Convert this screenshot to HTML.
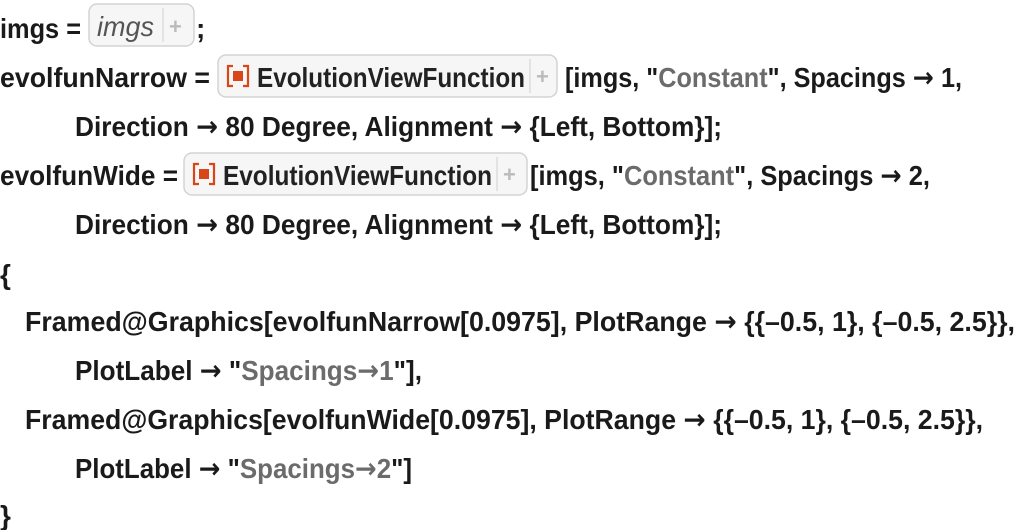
<!DOCTYPE html>
<html><head><meta charset="utf-8"><style>
html,body{margin:0;padding:0;background:#fff;}
svg{display:block;}
text{font-family:"Liberation Sans",sans-serif;font-weight:bold;font-size:28px;fill:#1a1a1a;}
.g{fill:#6b6b6b;}
.a{font-family:"DejaVu Sans",sans-serif;}
.bx{fill:#f6f6f6;stroke:#d3d3d3;stroke-width:1.5;}
</style></head><body>
<svg width="1020" height="530" viewBox="0 0 1020 530">
<!-- line 1 -->
<text x="0" y="38" textLength="81" lengthAdjust="spacingAndGlyphs">imgs =</text>
<rect class="bx" x="89" y="4" width="105" height="42" rx="8"/>
<line x1="163" y1="8" x2="163" y2="42" stroke="#ddd" stroke-width="1.5"/>
<text x="97" y="36" textLength="57" lengthAdjust="spacingAndGlyphs" style="font-style:italic;font-weight:normal;fill:#555">imgs</text>
<text x="169" y="34" style="font-size:22px;fill:#bbb">+</text>
<text x="196" y="38">;</text>
<!-- line 2 -->
<text x="0" y="87" textLength="210" lengthAdjust="spacingAndGlyphs">evolfunNarrow =</text>
<rect class="bx" x="218" y="55" width="339" height="42" rx="8"/>
<line x1="530" y1="59" x2="530" y2="93" stroke="#ddd" stroke-width="1.5"/>
<g fill="none" stroke="#d9461a" stroke-width="2.2"><path d="M233 66 h-5 v20 h5 M243 66 h5 v20 h-5"/></g>
<rect x="233" y="71" width="10" height="10" fill="#d9461a"/>
<text x="257" y="87" textLength="268" lengthAdjust="spacingAndGlyphs" style="fill:#222">EvolutionViewFunction</text>
<text x="536" y="84" style="font-size:22px;fill:#bbb">+</text>
<text x="565" y="87" textLength="397" lengthAdjust="spacingAndGlyphs">[imgs, "<tspan class="g">Constant</tspan>", Spacings <tspan class="a">→</tspan> 1,</text>
<!-- line 3 -->
<text x="75" y="136" textLength="647" lengthAdjust="spacingAndGlyphs">Direction <tspan class="a">→</tspan> 80 Degree, Alignment <tspan class="a">→</tspan> {Left, Bottom}];</text>
<!-- line 4 -->
<text x="0" y="185" textLength="178" lengthAdjust="spacingAndGlyphs">evolfunWide =</text>
<rect class="bx" x="184" y="153" width="343" height="42" rx="8"/>
<line x1="497" y1="157" x2="497" y2="191" stroke="#ddd" stroke-width="1.5"/>
<g fill="none" stroke="#d9461a" stroke-width="2.2"><path d="M199 164 h-5 v20 h5 M209 164 h5 v20 h-5"/></g>
<rect x="199" y="169" width="10" height="10" fill="#d9461a"/>
<text x="223" y="185" textLength="269" lengthAdjust="spacingAndGlyphs" style="fill:#222">EvolutionViewFunction</text>
<text x="503" y="182" style="font-size:22px;fill:#bbb">+</text>
<text x="530" y="185" textLength="400" lengthAdjust="spacingAndGlyphs">[imgs, "<tspan class="g">Constant</tspan>", Spacings <tspan class="a">→</tspan> 2,</text>
<!-- line 5 -->
<text x="75" y="234" textLength="647" lengthAdjust="spacingAndGlyphs">Direction <tspan class="a">→</tspan> 80 Degree, Alignment <tspan class="a">→</tspan> {Left, Bottom}];</text>
<!-- line 6 -->
<text x="0" y="284">{</text>
<!-- line 7 -->
<text x="25" y="331" textLength="990" lengthAdjust="spacingAndGlyphs">Framed@Graphics[evolfunNarrow[0.0975], PlotRange <tspan class="a">→</tspan> {{–0.5, 1}, {–0.5, 2.5}},</text>
<!-- line 8 -->
<text x="75" y="380" textLength="347" lengthAdjust="spacingAndGlyphs">PlotLabel <tspan class="a">→</tspan> "<tspan class="g">Spacings<tspan class="a">→</tspan>1</tspan>"],</text>
<!-- line 9 -->
<text x="25" y="429" textLength="958" lengthAdjust="spacingAndGlyphs">Framed@Graphics[evolfunWide[0.0975], PlotRange <tspan class="a">→</tspan> {{–0.5, 1}, {–0.5, 2.5}},</text>
<!-- line 10 -->
<text x="75" y="478" textLength="337" lengthAdjust="spacingAndGlyphs">PlotLabel <tspan class="a">→</tspan> "<tspan class="g">Spacings<tspan class="a">→</tspan>2</tspan>"]</text>
<!-- line 11 -->
<text x="0" y="525">}</text>
</svg>
</body></html>
